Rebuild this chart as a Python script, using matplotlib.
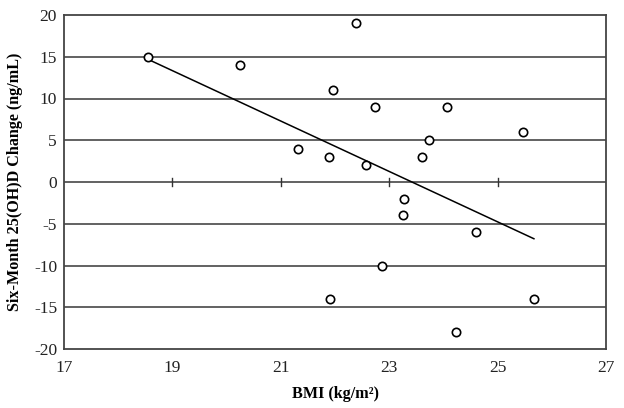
import numpy as np
import matplotlib
matplotlib.use("Agg")
import matplotlib.pyplot as plt

bmi = [18.55, 20.25, 21.32, 21.89, 21.96, 22.39, 22.57, 22.74, 23.73, 23.60,
       24.07, 25.47, 23.28, 23.25, 24.60, 22.87, 21.91, 25.67, 24.23]
change = [15, 14, 4, 3, 11, 19, 2, 9, 5, 3,
          9, 6, -2, -4, -6, -10, -14, -14, -18]

plt.rcParams['font.family'] = ['Liberation Serif', 'DejaVu Serif']
plt.rcParams['axes.unicode_minus'] = False

fig = plt.figure(figsize=(6.24, 4.08), dpi=100)
ax = fig.add_axes([64/624, 1-349/408, (606-64)/624, (349-15)/408])

ax.set_xlim(17, 27)
ax.set_ylim(-20, 20)
ax.set_yticks(np.arange(-20, 21, 5))
ax.set_xticks(np.arange(17, 28, 2))

for y in [-15, -10, -5, 0, 5, 10, 15]:
    ax.axhline(y, color='#555555', lw=1.3, zorder=1)

# cross tick marks on the zero line
for x in [19, 21, 23, 25]:
    ax.plot([x, x], [-0.5, 0.5], color='#333333', lw=1.0, zorder=2)

slope, icpt = np.polyfit(bmi, change, 1)
xs = np.array([min(bmi), max(bmi)])
ax.plot(xs, slope*xs + icpt, color='black', lw=1.1, zorder=3)

ax.plot(bmi, change, 'o', mfc='white', mec='black', ms=6, mew=1.2, zorder=4)

for s in ax.spines.values():
    s.set_color('#444444')
    s.set_linewidth(1.3)

ax.tick_params(axis='both', length=0, labelsize=12.5, colors='#222222')
ax.tick_params(axis='y', pad=5)
ax.tick_params(axis='x', pad=8)

ax.set_xlabel('BMI (kg/m²)', fontsize=11.6, fontweight='bold', labelpad=7)
ax.set_ylabel('Six-Month 25(OH)D Change (ng/mL)', fontsize=11.6, fontweight='bold', labelpad=8)

fig.savefig('out.png', dpi=100)
